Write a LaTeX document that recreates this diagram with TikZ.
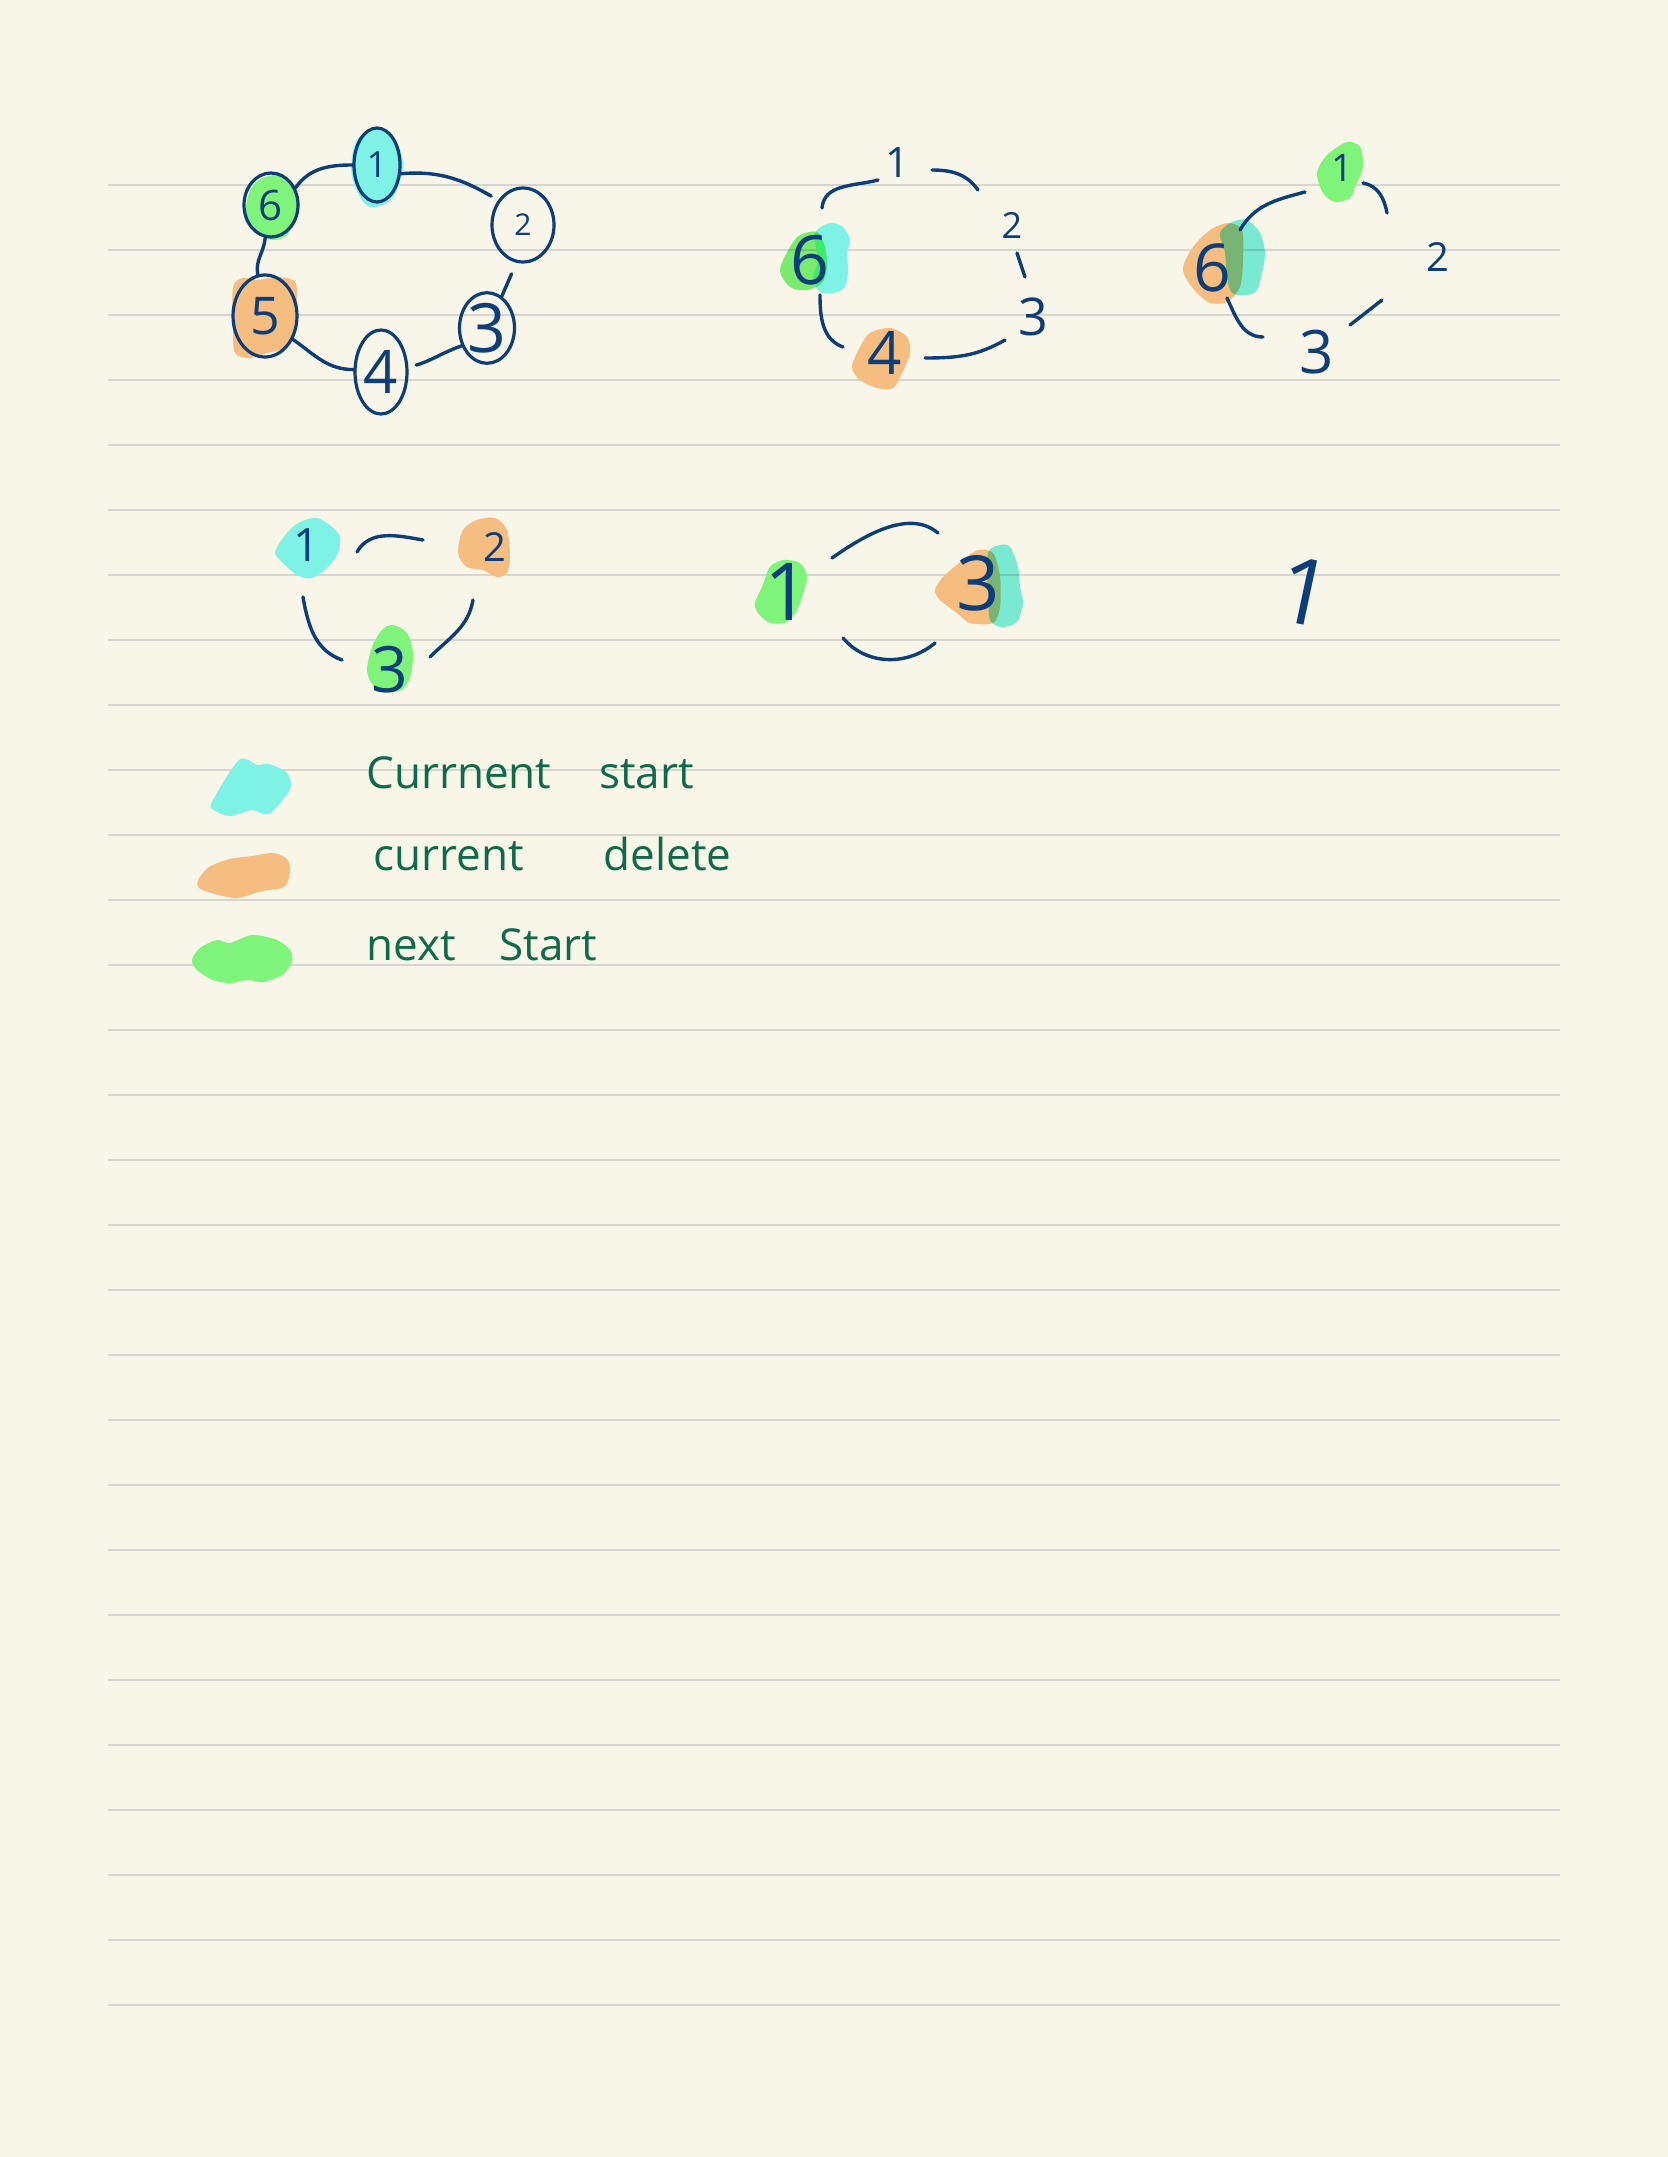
\documentclass[tikz,border=0pt]{standalone}
\usepackage{fontspec}
\setmainfont{Open Sans}
\usetikzlibrary{shapes.geometric}
\definecolor{paper}{RGB}{248,245,233}
\definecolor{rulegray}{RGB}{214,213,208}
\definecolor{ink}{RGB}{14,62,122}
\definecolor{legendink}{RGB}{14,106,72}
\definecolor{hcyan}{RGB}{126,243,229}
\definecolor{horange}{RGB}{245,190,128}
\definecolor{hgreen}{RGB}{126,245,122}
\tikzset{
  edge/.style={draw=ink, line width=1.7pt, line cap=round},
  ring/.style={ellipse, draw=ink, text=ink, line width=1.6pt, inner sep=0pt},
  digit/.style={text=ink, inner sep=0pt},
  fsz/.style={font=\fontsize{#1}{#1}\selectfont},
  legendtext/.style={text=legendink, inner sep=0pt, anchor=base west, font=\fontsize{22}{26}\selectfont},
  ruleline/.style={draw=rulegray, line width=1pt},
  mult/.style={blend mode=multiply}
}
\begin{document}
\begin{tikzpicture}[x=0.5pt,y=-0.5pt]
\useasboundingbox (0,0) rectangle (1668,2157);
\fill[paper] (0,0) rectangle (1668,2157);
\foreach \i in {0,...,28} \draw[ruleline] (108,185+65*\i) -- (1560,185+65*\i);

% ---------- highlight blobs ----------
% diagram 1
\fill[hcyan] plot[smooth cycle] coordinates {(352,157) (357,140) (373,128) (390,133) (400,150) (403,167) (397,190) (387,203) (370,207) (360,197) (352,177)};
\fill[hgreen] plot[smooth cycle] coordinates {(247,200) (255,183) (273,175) (290,180) (297,197) (295,217) (287,235) (273,240) (257,233) (247,220)};
\fill[horange] plot[smooth cycle] coordinates {(233,287) (243,278) (258,280) (277,277) (295,282) (297,307) (293,333) (287,347) (267,353) (250,358) (235,353) (233,327)};
% diagram 2
\fill[hcyan] plot[smooth cycle] coordinates {(815,233) (830,223) (843,227) (850,240) (847,253) (848,270) (845,287) (833,293) (820,292) (813,277) (818,260)};
\fill[hgreen, mult] plot[smooth cycle] coordinates {(780,270) (790,247) (800,235) (817,232) (825,247) (827,267) (822,283) (807,290) (790,287)};
\fill[horange] plot[smooth cycle] coordinates {(852,367) (860,347) (870,333) (890,328) (907,337) (910,353) (902,373) (893,388) (877,388) (860,380)};
% diagram 3
\fill[hgreen] plot[smooth cycle] coordinates {(1317,173) (1327,155) (1347,142) (1360,147) (1363,167) (1355,187) (1350,198) (1335,202) (1323,193)};
\fill[horange] plot[smooth cycle] coordinates {(1183,267) (1193,247) (1210,230) (1228,223) (1242,230) (1243,260) (1240,287) (1227,302) (1210,303) (1197,293) (1187,280)};
\fill[hcyan, mult] plot[smooth cycle] coordinates {(1220,233) (1232,222) (1247,220) (1260,233) (1265,253) (1262,273) (1257,290) (1247,295) (1232,293) (1227,277) (1225,253)};
% diagram 4
\fill[hcyan] plot[smooth cycle] coordinates {(275,552) (287,533) (300,522) (317,518) (332,527) (340,537) (338,553) (328,567) (312,578) (297,575) (283,563)};
\fill[horange] plot[smooth cycle] coordinates {(458,553) (463,530) (477,520) (495,518) (507,530) (510,557) (507,573) (497,577) (483,570) (467,567)};
\fill[hgreen] plot[smooth cycle] coordinates {(367,670) (372,647) (382,630) (393,625) (407,633) (413,653) (410,677) (402,690) (387,692) (373,685)};
% diagram 5
\fill[hgreen] plot[smooth cycle] coordinates {(755,603) (762,587) (770,567) (783,560) (800,563) (807,577) (802,597) (797,610) (787,622) (770,623) (758,613)};
\fill[horange] plot[smooth cycle] coordinates {(935,590) (943,577) (963,560) (978,550) (993,553) (1000,577) (1000,607) (993,623) (970,623) (957,613) (940,600)};
\fill[hcyan, mult] plot[smooth cycle] coordinates {(988,553) (1000,545) (1010,547) (1018,567) (1020,587) (1023,603) (1017,622) (1002,627) (990,620) (988,590)};
% legend
\fill[hcyan] plot[smooth cycle] coordinates {(212,802) (239,760) (257,765) (269,764) (287,773) (290,789) (269,814) (252,810) (230,816) (214,810)};
\fill[horange] plot[smooth cycle] coordinates {(198,880) (209,867) (230,859) (252,856) (273,853) (287,859) (290,872) (284,887) (262,891) (237,898) (215,894) (199,888)};
\fill[hgreen] plot[smooth cycle] coordinates {(192,960) (200,948) (217,940) (230,943) (252,935) (277,940) (290,950) (292,962) (282,975) (263,982) (247,980) (230,983) (213,980) (197,970)};

% ---------- diagram 1 ----------
\node[ring, minimum width=23pt, minimum height=37pt, fsz=18] (a1) at (377,165) {1};
\node[ring, minimum width=31pt, minimum height=37pt, fsz=15] (a2) at (523,225) {2};
\node[ring, minimum width=27pt, minimum height=35pt, fsz=34] (a3) at (487,328) {3};
\node[ring, minimum width=26pt, minimum height=42pt, fsz=30] (a4) at (381,372) {4};
\node[ring, minimum width=32pt, minimum height=41pt, fsz=26] (a5) at (265,316) {5};
\node[ring, minimum width=27pt, minimum height=32pt, fsz=21] (a6) at (271,205) {6};
\draw[edge] (a6.35) to[out=55,in=180] (a1.west);
\draw[edge, shorten >=4pt] (a1.-20) to[out=5,in=150] (a2.135);
\draw[edge, shorten <=6pt] (a2.-100) -- (a3.65);
\draw[edge, shorten >=4pt] (a3.215) to[out=200,in=15] (a4.10);
\draw[edge] (a4.175) to[out=180,in=-35] (a5.-40);
\draw[edge] (a5.100) to[out=100,in=-95] (a6.-100);

% ---------- diagram 2 ----------
\node[digit, fsz=21] (b1) at (897,163) {1};
\node[digit, fsz=18] (b2) at (1012,225) {2};
\node[digit, fsz=26] (b3) at (1033,317) {3};
\node[digit, fsz=34] (b6) at (810,260) {6};
\node[digit, fsz=30] (b4) at (885,353) {4};
\draw[edge] ([shift={(12,-52)}]b6.center) to[out=85,in=195] ([shift={(-19,17)}]b1.center);
\draw[edge] ([shift={(35,7)}]b1.center) to[out=0,in=125] ([shift={(-34,-35)}]b2.center);
\draw[edge] ([shift={(5,28)}]b2.center) -- ([shift={(-8,-40)}]b3.center);
\draw[edge] ([shift={(-28,23)}]b3.center) to[out=210,in=0] ([shift={(40,5)}]b4.center);
\draw[edge] ([shift={(-42,-6)}]b4.center) to[out=160,in=-90] ([shift={(10,35)}]b6.center);

% ---------- diagram 3 ----------
\node[digit, fsz=19] (c1) at (1342,168) {1};
\node[digit, fsz=20] (c2) at (1438,257) {2};
\node[digit, fsz=30] (c3) at (1317,352) {3};
\node[digit, fsz=33] (c6) at (1212,268) {6};
\draw[edge] ([shift={(28,-38)}]c6.center) to[out=60,in=195] ([shift={(-37,24)}]c1.center);
\draw[edge] ([shift={(21,15)}]c1.center) to[out=-10,in=100] ([shift={(-51,-44)}]c2.center);
\draw[edge] ([shift={(-56,43)}]c2.center) -- ([shift={(33,-27)}]c3.center);
\draw[edge] ([shift={(-54,-15)}]c3.center) to[out=180,in=-65] ([shift={(15,30)}]c6.center);

% ---------- diagram 4 ----------
\node[digit, fsz=23] (d1) at (307,545) {1};
\node[digit, fsz=20] (d2) at (495,547) {2};
\node[digit, fsz=32] (d3) at (390,670) {3};
\draw[edge] ([shift={(50,7)}]d1.center) to[out=60,in=170] ([shift={(-72,-7)}]d2.center);
\draw[edge] ([shift={(-22,53)}]d2.center) to[out=-100,in=45] ([shift={(40,-13)}]d3.center);
\draw[edge] ([shift={(-48,-10)}]d3.center) to[out=160,in=-80] ([shift={(-4,52)}]d1.center);

% ---------- diagram 5 ----------
\node[digit, fsz=40] (e1) at (787,592) {1};
\node[digit, fsz=38] (e3) at (978,583) {3};
\draw[edge] ([shift={(45,-34)}]e1.center) to[out=35,in=140,looseness=0.9] ([shift={(-40,-50)}]e3.center);
\draw[edge] ([shift={(56,46)}]e1.center) to[out=-50,in=220] ([shift={(-43,60)}]e3.center);

% ---------- diagram 6 ----------
\node[digit, fsz=46, rotate=-12] (f1) at (1305,592) {1};

% ---------- legend ----------
\node[legendtext] (l1) at (366,788) {Currnent\hspace{24pt}start};
\node[legendtext] (l2) at (373,870) {current\hspace{40pt}delete};
\node[legendtext] (l3) at (366,960) {next\hspace{22pt}Start};
\end{tikzpicture}
\end{document}
